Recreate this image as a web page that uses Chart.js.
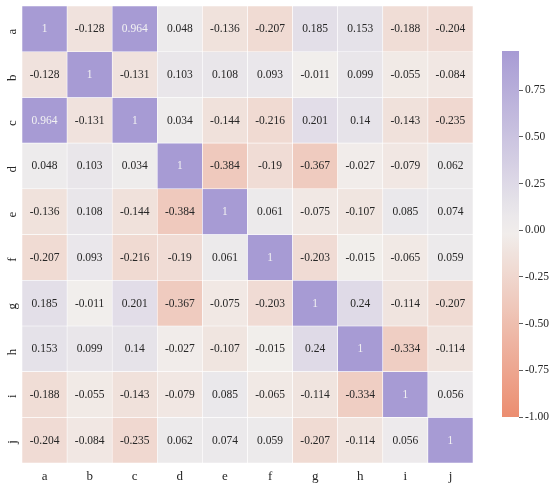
<!DOCTYPE html>
<html>
  <head>
    <meta charset="UTF-8" />
    <script src="https://cdn.jsdelivr.net/npm/chart.js"></script>
    <style>
      body { margin: 0; background: #fff; }
      #wrap { position: relative; width: 550px; height: 486px; }
      #heat { position: absolute; left: 0; top: 0; }
      #bar { position: absolute; left: 490px; top: 0; }
    </style>
  </head>
  <body>
    <div id="wrap">
      <canvas id="heat" width="490" height="486"></canvas>
      <canvas id="bar" width="60" height="486"></canvas>
    </div>
    <script>
      // 변수 이름
      const categories = ["a", "b", "c", "d", "e", "f", "g", "h", "i", "j"];
      // 상관계수 (행별)
      const rowA = [1, -0.128, 0.964, 0.048, -0.136, -0.207, 0.185, 0.153, -0.188, -0.204];
      const rowB = [-0.128, 1, -0.131, 0.103, 0.108, 0.093, -0.011, 0.099, -0.055, -0.084];
      const rowC = [0.964, -0.131, 1, 0.034, -0.144, -0.216, 0.201, 0.14, -0.143, -0.235];
      const rowD = [0.048, 0.103, 0.034, 1, -0.384, -0.19, -0.367, -0.027, -0.079, 0.062];
      const rowE = [-0.136, 0.108, -0.144, -0.384, 1, 0.061, -0.075, -0.107, 0.085, 0.074];
      const rowF = [-0.207, 0.093, -0.216, -0.19, 0.061, 1, -0.203, -0.015, -0.065, 0.059];
      const rowG = [0.185, -0.011, 0.201, -0.367, -0.075, -0.203, 1, 0.24, -0.114, -0.207];
      const rowH = [0.153, 0.099, 0.14, -0.027, -0.107, -0.015, 0.24, 1, -0.334, -0.114];
      const rowI = [-0.188, -0.055, -0.143, -0.079, 0.085, -0.065, -0.114, -0.334, 1, 0.056];
      const rowJ = [-0.204, -0.084, -0.235, 0.062, 0.074, 0.059, -0.207, -0.114, 0.056, 1];
      const rows = [rowA, rowB, rowC, rowD, rowE, rowF, rowG, rowH, rowI, rowJ];
      // 컬러바 범위 / 눈금
      const vmin = -1;
      const vmax = 0.96;
      const barTicks = [-1, -0.75, -0.5, -0.25, 0, 0.25, 0.5, 0.75];

      const FONT = "'Liberation Serif', 'Times New Roman', serif";
      const cNeg = [236, 141, 112];
      const cMid = [241, 239, 237];
      const cPos = [167, 155, 212];

      function mix(a, b, t) {
        return a.map((v, i) => Math.round(v + (b[i] - v) * t));
      }
      function colorOf(v) {
        let c;
        if (v >= 0) c = mix(cMid, cPos, Math.min(v / vmax, 1));
        else c = mix(cMid, cNeg, Math.min(v / vmin, 1));
        return `rgb(${c[0]},${c[1]},${c[2]})`;
      }

      // 셀 안의 숫자
      const cellText = {
        id: "cellText",
        afterDatasetsDraw(chart) {
          const ctx = chart.ctx;
          ctx.save();
          ctx.font = "11.5px " + FONT;
          ctx.textAlign = "center";
          ctx.textBaseline = "middle";
          chart.data.datasets.forEach((ds, r) => {
            chart.getDatasetMeta(r).data.forEach((el, c) => {
              const v = rows[r][c];
              const p = el.getCenterPoint();
              ctx.fillStyle = v > 0.6 ? "#f2f2f2" : "#262626";
              ctx.fillText(String(v), p.x, p.y + 0.5);
            });
          });
          ctx.restore();
        },
      };

      new Chart(document.getElementById("heat"), {
        type: "bar",
        data: {
          labels: categories,
          datasets: rows.map((row, r) => ({
            data: row.map(() => [r - 0.5, r + 0.5]),
            backgroundColor: row.map((v) => colorOf(v)),
            borderColor: "#ffffff",
            borderWidth: 0.6,
            borderSkipped: false,
            barPercentage: 1,
            categoryPercentage: 1,
            grouped: false,
          })),
        },
        options: {
          responsive: false,
          animation: false,
          layout: { padding: { top: 6, right: 17, left: 0, bottom: 0 } },
          plugins: { legend: { display: false }, tooltip: { enabled: false } },
          scales: {
            x: {
              grid: { display: false, drawTicks: false },
              border: { display: false },
              ticks: { font: { family: FONT, size: 13 }, color: "#262626", padding: 6 },
              afterFit: (s) => {
                s.height = 23;
                s.paddingLeft = 0;
                s.paddingRight = 0;
              },
            },
            y: {
              min: -0.5,
              max: 9.5,
              reverse: true,
              grid: { display: false, drawTicks: false },
              border: { display: false },
              afterBuildTicks: (s) => { s.ticks = categories.map((c, i) => ({ value: i })); },
              ticks: {
                font: { family: FONT, size: 13 },
                color: "#262626",
                minRotation: 90,
                maxRotation: 90,
                padding: 9,
                callback: (v) => categories[v],
              },
              afterFit: (s) => {
                s.width = 22;
                s.paddingTop = 0;
                s.paddingBottom = 0;
              },
            },
          },
        },
        plugins: [cellText],
      });

      // 컬러바
      new Chart(document.getElementById("bar"), {
        type: "bar",
        data: {
          labels: [""],
          datasets: [
            {
              data: [[vmin, vmax]],
              barPercentage: 1,
              categoryPercentage: 1,
              backgroundColor: (ctx) => {
                const chart = ctx.chart;
                const area = chart.chartArea;
                if (!area) return colorOf(0);
                const y = chart.scales.y;
                const g = chart.ctx.createLinearGradient(0, y.getPixelForValue(vmin), 0, y.getPixelForValue(vmax));
                for (let i = 0; i <= 20; i++) {
                  const v = vmin + ((vmax - vmin) * i) / 20;
                  g.addColorStop(i / 20, colorOf(v));
                }
                return g;
              },
            },
          ],
        },
        options: {
          responsive: false,
          animation: false,
          layout: { padding: { top: 51, bottom: 69, left: 12, right: 0 } },
          plugins: { legend: { display: false }, tooltip: { enabled: false } },
          scales: {
            x: { display: false },
            y: {
              position: "right",
              min: vmin,
              max: vmax,
              border: { display: false },
              grid: { drawOnChartArea: false, drawTicks: true, tickLength: 4, color: "#333", lineWidth: 0.8 },
              afterBuildTicks: (s) => { s.ticks = barTicks.map((v) => ({ value: v })); },
              ticks: {
                font: { family: FONT, size: 11.5 },
                color: "#262626",
                padding: 2,
                callback: (v) => v.toFixed(2),
              },
              afterFit: (s) => {
                s.width = 31;
                s.paddingTop = 0;
                s.paddingBottom = 0;
              },
            },
          },
        },
      });
    </script>
  </body>
</html>
